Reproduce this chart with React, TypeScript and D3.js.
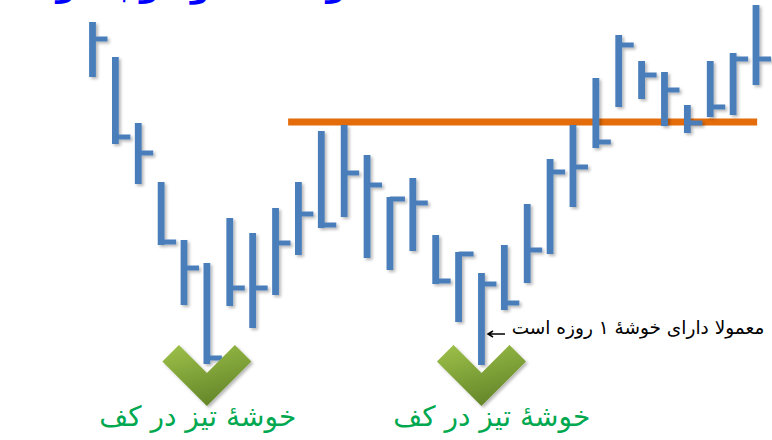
import React from "react";
import * as d3 from "d3";

// OHLC-style bars (high / low / close)
const highs = [41.8, 38.3, 31.7, 25.8, 20.0, 17.7, 22.2, 20.7, 23.2, 25.8, 30.9, 31.5, 28.5, 24.3, 26.2, 20.5, 18.8, 16.7, 19.5, 23.6, 28.1, 31.5, 36.2, 40.5, 37.9, 36.8, 33.5, 37.9, 38.7, 43.5];
const lows = [36.3, 29.6, 25.6, 19.5, 13.5, 7.6, 13.4, 11.2, 14.5, 18.5, 21.2, 22.3, 18.2, 17.0, 18.9, 15.6, 11.8, 7.5, 13.0, 15.7, 18.6, 23.3, 29.2, 33.3, 34.1, 31.4, 30.7, 32.3, 32.5, 35.5];
const closes = [40.1, 30.3, 28.7, 19.8, 17.2, 8.2, 15.2, 15.2, 19.7, 22.6, 21.5, 26.7, 25.5, 24.1, 23.7, 15.9, 18.6, 15.6, 13.7, 19.0, 26.8, 27.3, 29.8, 39.5, 36.5, 35.0, 31.7, 33.3, 38.1, 38.1];

// neckline (resistance)
const necklineLevel = 31.8;
const necklineSpan = [8.55, 29.05];

// spikes at the bottoms
const spikeBars = [5, 17];
const spikeLabelAt = [4.6, 17.45];
const spikeLabel = "خوشهٔ تیز در کف";
const noteText = "معمولا دارای خوشهٔ ۱ روزه است";
const titleText = "الگوی کف دوقلو با خوشه‌های تیز";

const W = 772;
const H = 440;

export default function App() {
  const x = d3.scaleLinear().domain([0, 29]).range([92.5, 756]);
  const y = d3.scaleLinear().domain([0, 44]).range([H, 0]);

  const barW = 6.8;
  const tickLen = 15;
  const tickW = 5;
  const chevTopLevel = 9.5;

  const chevron = (cx: number) => {
    const y0 = y(chevTopLevel);
    const pts: [number, number][] = [
      [cx - 44.5, y0 + 16.5],
      [cx - 28, y0],
      [cx, y0 + 28],
      [cx + 28, y0],
      [cx + 44.5, y0 + 16.5],
      [cx, y0 + 61],
    ];
    return d3.line()(pts.concat([pts[0]])) as string;
  };

  const arrowY = 334;
  const arrowX0 = 488;
  const arrowX1 = 505;

  return (
    <svg
      width={W}
      height={H}
      style={{ position: "absolute", left: 0, top: 0, background: "#fff" }}
      fontFamily="DejaVu Sans"
    >
      <defs>
        <filter id="sh" x="-50%" y="-10%" width="200%" height="120%">
          <feDropShadow dx="2" dy="2" stdDeviation="1.4" floodColor="#000" floodOpacity="0.28" />
        </filter>
        <linearGradient id="gr" x1="0" y1="0" x2="0.4" y2="1">
          <stop offset="0" stopColor="#9fc24a" />
          <stop offset="1" stopColor="#66882a" />
        </linearGradient>
      </defs>
      <rect width={W} height={H} fill="#fff" />

      <text x={140} y={-3} fontSize={30} fontWeight="bold" fill="#0000ff" textAnchor="middle">
        {titleText}
      </text>

      <line
        x1={x(necklineSpan[0])}
        x2={x(necklineSpan[1])}
        y1={y(necklineLevel)}
        y2={y(necklineLevel)}
        stroke="#e46c0a"
        strokeWidth={7}
      />

      <g filter="url(#sh)">
        {highs.map((h, i) => (
          <g key={i}>
            <line x1={x(i)} x2={x(i)} y1={y(h)} y2={y(lows[i])} stroke="#4a7ebb" strokeWidth={barW} />
            <line
              x1={x(i)}
              x2={x(i) + tickLen}
              y1={y(closes[i])}
              y2={y(closes[i])}
              stroke="#4a7ebb"
              strokeWidth={tickW}
            />
          </g>
        ))}
      </g>

      {spikeBars.map((b, k) => (
        <path key={k} d={chevron(x(b))} fill="url(#gr)" filter="url(#sh)" />
      ))}

      {spikeLabelAt.map((p, k) => (
        <text key={k} x={x(p)} y={426} fontSize={28} fill="#00a84f" textAnchor="middle">
          {spikeLabel}
        </text>
      ))}

      <text x={638} y={334} fontSize={18.5} fill="#000" textAnchor="middle">
        {noteText}
      </text>
      <path
        d={`M${arrowX1},${arrowY}H${arrowX0 + 1}M${arrowX0 + 5},${arrowY - 3}L${arrowX0},${arrowY}L${arrowX0 + 5},${arrowY + 3}`}
        stroke="#000"
        strokeWidth={1.5}
        fill="none"
      />
    </svg>
  );
}
